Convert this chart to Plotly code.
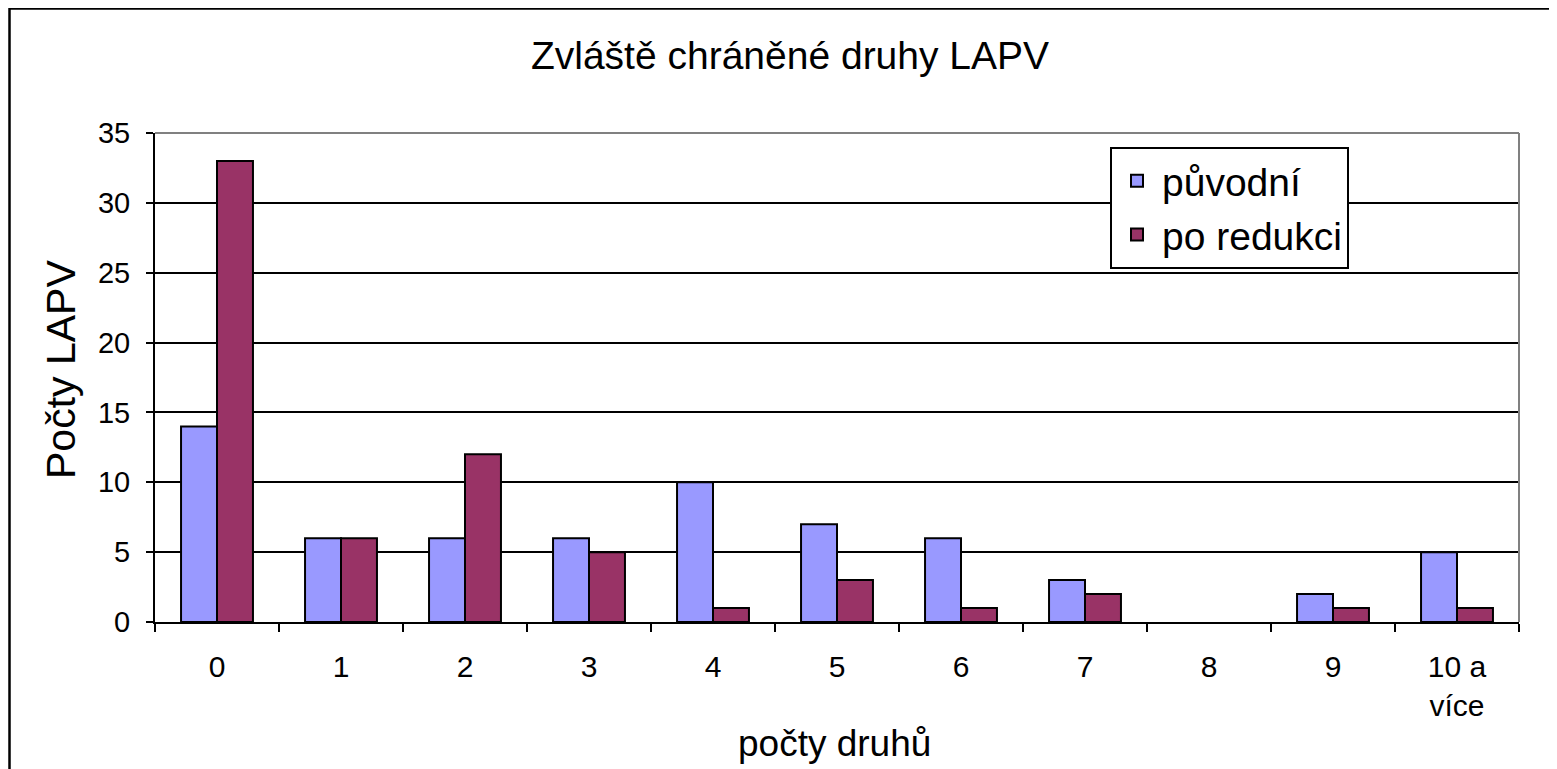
import plotly.graph_objects as go

categories = ["0", "1", "2", "3", "4", "5", "6", "7", "8", "9", "10 a<br>více"]
puvodni = [14, 6, 6, 6, 10, 7, 6, 3, 0, 2, 5]
po_redukci = [33, 6, 12, 5, 1, 3, 1, 2, 0, 1, 1]
y_ticks = [0, 5, 10, 15, 20, 25, 30, 35]

FONT = "Liberation Sans, Arial, sans-serif"

# The page body has an 8px margin, so figure coordinates = screen coordinates - 8.
OFF = 8
L, R, T, B = 155 - OFF, 1557 - 1519 + OFF, 133 - OFF, 769 - 622 + OFF
PW = 1519 - 155
PH = 622 - 133


def px_x(sx):
    return (sx - 155) / PW


def px_y(sy):
    return (622 - sy) / PH


def outline_widths(values):
    # zero-height bars show no outline (as in the original chart)
    return [2 if v > 0 else 0 for v in values]


fig = go.Figure()
fig.add_trace(go.Bar(x=categories, y=puvodni, name="původní",
                     marker=dict(color="#9999FF",
                                 line=dict(color="black", width=outline_widths(puvodni)))))
fig.add_trace(go.Bar(x=categories, y=po_redukci, name="po redukci",
                     marker=dict(color="#993366",
                                 line=dict(color="black", width=outline_widths(po_redukci)))))

fig.update_layout(
    width=1557, height=769,
    margin=dict(l=L, r=R, t=T, b=B, autoexpand=False),
    paper_bgcolor="white", plot_bgcolor="white",
    font=dict(family=FONT, color="black", size=30),
    barmode="group", bargap=0.42, bargroupgap=0,
    title=dict(text="Zvláště chráněné druhy LAPV", x=(790 - OFF) / 1557, xanchor="center",
               y=1 - (55 - OFF) / 769, yanchor="middle", yref="container",
               font=dict(size=39, family=FONT, color="black")),
    legend=dict(x=px_x(1110), y=px_y(147), xanchor="left", yanchor="top",
                bordercolor="black", borderwidth=2, bgcolor="white",
                font=dict(size=39, family=FONT, color="black"),
                itemwidth=40, traceorder="normal", tracegroupgap=0),
    showlegend=True,
)

fig.update_xaxes(
    type="category", categoryorder="array", categoryarray=categories,
    showline=True, linecolor="black", linewidth=2,
    ticks="outside", tickson="boundaries", ticklen=8, tickwidth=2, tickcolor="black",
    ticklabelstandoff=17,
    showgrid=False, zeroline=False,
    tickfont=dict(size=30),
)
fig.update_yaxes(
    range=[0, 35], tickvals=y_ticks,
    showline=True, linecolor="black", linewidth=2,
    ticks="outside", ticklen=7, tickwidth=2, tickcolor="black",
    ticklabelstandoff=10,
    showgrid=True, gridcolor="black", gridwidth=1.5,
    zeroline=False,
    tickfont=dict(size=29),
)

# axis titles
fig.add_annotation(text="počty druhů", xref="paper", yref="paper",
                   x=px_x(834), y=px_y(743), xanchor="center", yanchor="middle",
                   showarrow=False, font=dict(size=37, family=FONT, color="black"))
fig.add_annotation(text="Počty LAPV", xref="paper", yref="paper", textangle=-90,
                   x=px_x(61), y=px_y(370), xanchor="center", yanchor="middle",
                   showarrow=False, font=dict(size=41, family=FONT, color="black"))

# plot area border (grey top/right)
fig.add_shape(type="line", xref="paper", yref="paper", x0=0, x1=1, y0=1, y1=1,
              line=dict(color="#808080", width=2), layer="above")
fig.add_shape(type="line", xref="paper", yref="paper", x0=1, x1=1, y0=0, y1=1,
              line=dict(color="#808080", width=2), layer="above")

# outer chart border (left and top edges visible)
fig.add_shape(type="rect", xref="paper", yref="paper",
              x0=px_x(9.5), x1=1.2, y0=-0.5, y1=px_y(8.5),
              line=dict(color="black", width=2.5), layer="above")

fig.write_html("out.html")
